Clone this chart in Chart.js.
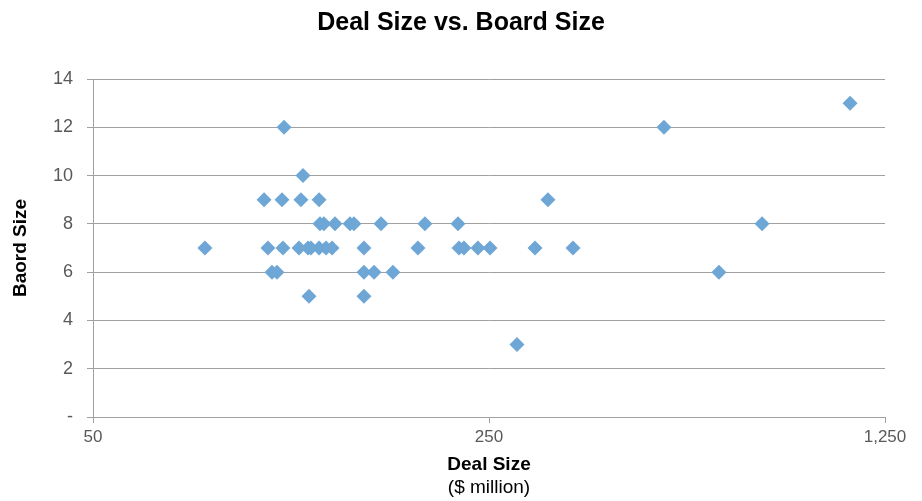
<!DOCTYPE html>
<html>
<head>
<meta charset="utf-8">
<script src="https://cdn.jsdelivr.net/npm/chart.js@4"></script>
<style>
    html, body { margin: 0; padding: 0; background: #ffffff; }
    #wrap { width: 922px; height: 501px; }
</style>
</head>
<body>
<div id="wrap"><canvas id="deal_board_chart" width="922" height="501"></canvas></div>
<script>
// deal size ($ million) and board size per deal
const dealSize = [
    78.8, 100.2, 101.8, 103.5, 105.6, 107.8, 108.2, 108.7, 115.5, 116.4,
    117.4, 119.8, 120.3, 121.2, 125.3, 125.3, 125.8, 127.8, 128.9, 132.1,
    133.7, 142.1, 144.4, 150.4, 150.4, 150.4, 156.7, 161.2, 169.2, 187.3,
    192.7, 220.4, 221.3, 225.8, 239.0, 251.0, 280.1, 301.4, 317.7, 351.7,
    509.0, 636.5, 758.4, 1084.5,
];
const boardSize = [
    7, 9, 7, 6, 6, 9, 7, 12, 7, 9,
    10, 7, 5, 7, 7, 9, 8, 8, 7, 7,
    8, 8, 8, 7, 6, 5, 6, 8, 6, 7,
    8, 8, 7, 7, 7, 7, 3, 7, 9, 7,
    12, 6, 8, 13,
];
const xTicks = [50, 250, 1250];
const yTicks = [0, 2, 4, 6, 8, 10, 12, 14];

const fontFamily = "'Liberation Sans', Arial, sans-serif";
const textColor = "#595959";
const gridColor = "#a0a0a0";

// second line of the x axis title, not bold
const subTitlePlugin = {
    id: "subTitle",
    afterDraw(chart) {
        const ctx = chart.ctx;
        const area = chart.chartArea;
        ctx.save();
        ctx.font = "19px " + fontFamily;
        ctx.fillStyle = "#000000";
        ctx.textAlign = "center";
        ctx.textBaseline = "middle";
        ctx.fillText("($ million)", (area.left + area.right) / 2, 488);
        ctx.restore();
    },
};

new Chart(document.getElementById("deal_board_chart"), {
    type: "scatter",
    data: {
        datasets: [{
            label: "Deals",
            data: dealSize.map((d, i) => ({ x: d, y: boardSize[i] })),
            pointStyle: "rectRot",
            pointRadius: 7.5,
            pointHoverRadius: 7.5,
            backgroundColor: "#6ea7d6",
            borderColor: "#6ea7d6",
            borderWidth: 0,
        }],
    },
    options: {
        responsive: false,
        animation: false,
        layout: { padding: 0 },
        plugins: {
            legend: { display: false },
            tooltip: { enabled: false },
            title: {
                display: true,
                text: "Deal Size vs. Board Size",
                color: "#000000",
                font: { family: fontFamily, size: 25, weight: "bold" },
                padding: { top: 8, bottom: 41 },
            },
        },
        scales: {
            x: {
                type: "logarithmic",
                min: 50,
                max: 1250,
                afterBuildTicks: (scale) => {
                    scale.ticks = xTicks.map((v) => ({ value: v }));
                },
                afterFit: (scale) => { scale.height = 84; },
                grid: { drawOnChartArea: false, drawTicks: true, tickLength: 6, color: gridColor },
                border: { color: gridColor, width: 1 },
                ticks: {
                    color: textColor,
                    padding: 4,
                    maxRotation: 0,
                    autoSkip: false,
                    font: { family: fontFamily, size: 17 },
                    callback: (v) => Number(v).toLocaleString("en-US"),
                },
                title: {
                    display: true,
                    text: "Deal Size",
                    color: "#000000",
                    font: { family: fontFamily, size: 19, weight: "bold" },
                    padding: { top: 0, bottom: 25 },
                },
            },
            y: {
                min: 0,
                max: 14,
                afterBuildTicks: (scale) => {
                    scale.ticks = yTicks.map((v) => ({ value: v }));
                },
                afterFit: (scale) => { scale.width = 93; },
                grid: { color: gridColor, tickLength: 6 },
                border: { color: gridColor, width: 1 },
                ticks: {
                    color: textColor,
                    padding: 14,
                    font: { family: fontFamily, size: 18 },
                    callback: (v) => (v === 0 ? "-" : v),
                },
                title: {
                    display: true,
                    text: "Baord Size",
                    color: "#000000",
                    font: { family: fontFamily, size: 19, weight: "bold" },
                    padding: { top: 9, bottom: 0 },
                },
            },
            // empty right axis, only keeps the right margin so the title stays centred on the page
            yRight: {
                position: "right",
                display: true,
                min: 0,
                max: 14,
                grid: { display: false },
                border: { display: false },
                ticks: { display: false },
                afterFit: (scale) => { scale.width = 37; },
            },
        },
    },
    plugins: [subTitlePlugin],
});
</script>
</body>
</html>
